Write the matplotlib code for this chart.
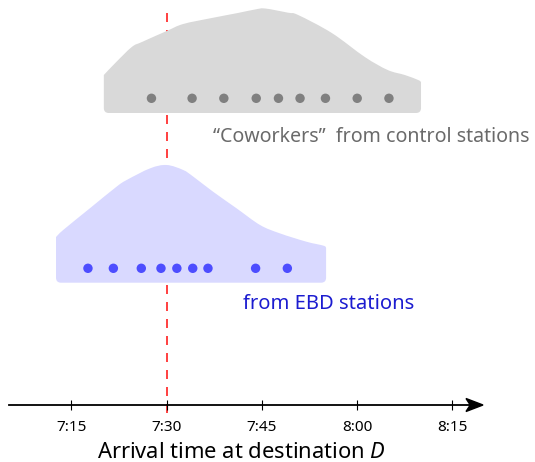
import matplotlib
matplotlib.use("Agg")
import matplotlib.pyplot as plt
from matplotlib.path import Path
from matplotlib.patches import PathPatch, Polygon
import numpy as np

plt.rcParams['font.family'] = ['Noto Sans', 'DejaVu Sans']
plt.rcParams['mathtext.fontset'] = 'custom'
plt.rcParams['mathtext.rm'] = 'Noto Sans'
plt.rcParams['mathtext.it'] = 'Noto Sans:italic'

# ---- data (minutes after 7:00) ----
control_arrivals = [27.6, 34.0, 39.0, 44.1, 47.6, 51.0, 55.0, 60.0, 65.0]
ebd_arrivals = [17.6, 21.6, 26.0, 29.1, 31.6, 34.1, 36.5, 44.0, 49.0]

control_density_x = [20.1, 21.9, 24.5, 26.1, 30.0, 32.6, 37.1, 41.2, 43.9, 45.5,
                     49.1, 50.7, 56.0, 61.2, 64.8, 67.5, 69.6, 70.05]
control_density_h = [38, 50, 66, 71, 82, 89, 95, 100, 103.5, 104.5,
                     100.3, 98, 80, 56, 43, 38, 33, 31]

ebd_density_x = [12.57, 13.7, 17.9, 22.1, 23.7, 27.4, 30.0, 32.6, 34.2, 37.3,
                 41.0, 44.7, 47.8, 52.0, 54.7, 55.1]
ebd_density_h = [45.7, 52.7, 74.4, 96, 102.7, 114.4, 117.7, 112.7, 106, 91,
                 74.4, 57.7, 49.4, 41, 37, 34.7]

tick_minutes = [15, 30, 45, 60, 75]
tick_labels = ['7:15', '7:30', '7:45', '8:00', '8:15']
reference_time = 30

# ---- layout ----
PX_PER_MIN = 6.35
X0 = 30 - 166.7 / PX_PER_MIN
X1 = 30 + (535 - 166.7) / PX_PER_MIN

fig = plt.figure(figsize=(5.35, 4.62), dpi=100)
ax = fig.add_axes([0, 0, 1, 1])
ax.set_xlim(X0, X1)
ax.set_ylim(462, 0)


def density_patch(xs, hs, bottom, fc, r=5.0):
    rx = r / PX_PER_MIN
    pts = np.array([[x, bottom - h] for x, h in zip(xs, hs)], float)
    L, R = pts[0, 0], pts[-1, 0]
    verts = [(L, bottom - r), tuple(pts[0])]
    codes = [Path.MOVETO, Path.LINETO]
    n = len(pts)
    for i in range(n - 1):
        p0 = pts[i - 1] if i > 0 else pts[i]
        p1 = pts[i]
        p2 = pts[i + 1]
        p3 = pts[i + 2] if i + 2 < n else pts[i + 1]
        c1 = p1 + (p2 - p0) / 6.0
        c2 = p2 - (p3 - p1) / 6.0
        verts += [tuple(c1), tuple(c2), tuple(p2)]
        codes += [Path.CURVE4] * 3
    verts += [(R, bottom - r), (R, bottom), (R - rx, bottom), (L + rx, bottom),
              (L, bottom), (L, bottom - r), (L, bottom - r)]
    codes += [Path.LINETO, Path.CURVE3, Path.CURVE3, Path.LINETO,
              Path.CURVE3, Path.CURVE3, Path.CLOSEPOLY]
    return PathPatch(Path(verts, codes), facecolor=fc, edgecolor='none', zorder=2)


# reference line (behind shapes)
ax.plot([reference_time, reference_time], [13, 420], color='#ff4444', lw=1.44,
        dashes=(4.5, 4.0), zorder=1)

ax.add_patch(density_patch(control_density_x, control_density_h, 113, '#d9d9d9'))
ax.add_patch(density_patch(ebd_density_x, ebd_density_h, 282.7, '#d9d9ff'))

ax.scatter(control_arrivals, [98.3] * len(control_arrivals), s=46, color='#808080',
           edgecolors='none', zorder=3)
ax.scatter(ebd_arrivals, [268.3] * len(ebd_arrivals), s=46, color='#4d4dff',
           edgecolors='none', zorder=3)

ax.text(30 + (212.7 - 166.7) / PX_PER_MIN, 141.7, '\u201cCoworkers\u201d  from control stations',
        color='#6a6a6a', fontsize=14.1, ha='left', va='baseline')
ax.text(30 + (242.7 - 166.7) / PX_PER_MIN, 309, 'from EBD stations',
        color='#1c1cd0', fontsize=14.5, ha='left', va='baseline')

# axis with arrow
for s in ['top', 'left', 'right']:
    ax.spines[s].set_visible(False)
ax.spines['bottom'].set_position(('data', 405))
ax_start = 30 + (8.5 - 166.7) / PX_PER_MIN
tip = 30 + (483 - 166.7) / PX_PER_MIN
ax.spines['bottom'].set_bounds(ax_start, tip - 2.0 / PX_PER_MIN)
ax.spines['bottom'].set_linewidth(1.3)
ax.spines['bottom'].set_zorder(4)
hl = 17 / PX_PER_MIN
ax.add_patch(Polygon([(tip, 405), (tip - hl, 398.5), (tip - hl * 0.75, 405),
                      (tip - hl, 411.5)], closed=True, color='black', zorder=5))
ax.set_yticks([])
ax.set_xticks(tick_minutes)
ax.set_xticklabels(tick_labels, fontsize=11)
ax.tick_params(axis='x', direction='inout', length=7.6, width=0.8, pad=7)

ax.text(41.7, 458, 'Arrival time at destination $D$', fontsize=15.8, ha='center',
        va='baseline')

fig.savefig('out.png', dpi=100)
